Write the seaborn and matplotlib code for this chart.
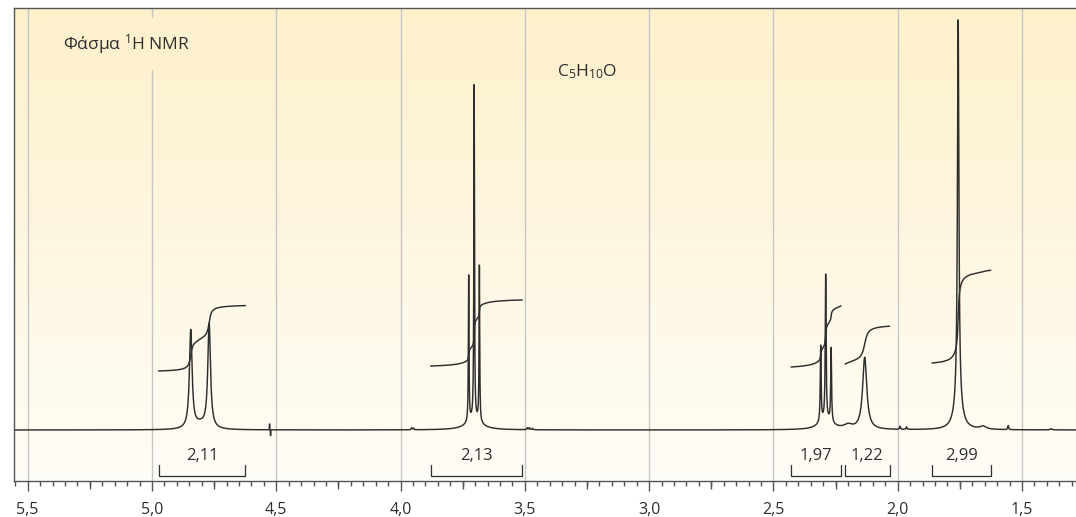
import numpy as np
import pandas as pd
import matplotlib
matplotlib.use("Agg")
import matplotlib.pyplot as plt
from matplotlib.ticker import MultipleLocator
import seaborn as sns

# -------- Data --------
# peak lines: shift (ppm), height (px above baseline), half width at half height (ppm)
peak_ppm = [4.844, 4.770, 4.805,
            4.527, 4.523, 3.955, 3.948,
            3.726, 3.704, 3.683, 3.705,
            3.490, 3.482, 3.470,
            2.310, 2.290, 2.268, 2.290, 2.200,
            2.133,
            1.991, 1.965,
            1.757, 1.757,
            1.657, 1.556, 1.383]
peak_height = [98, 104, 5,
               6, -6, 2, 1.5,
               146, 334, 156, 10,
               2, 2, 1.5,
               76, 144, 74, 10, 4,
               72,
               3, 2.5,
               380, 30,
               3, 4, 1.2]
peak_width = [0.0065, 0.0065, 0.03,
              0.0006, 0.0006, 0.002, 0.002,
              0.0015, 0.0015, 0.0015, 0.035,
              0.002, 0.002, 0.002,
              0.002, 0.002, 0.002, 0.03, 0.02,
              0.010,
              0.002, 0.002,
              0.0034, 0.016,
              0.015, 0.002, 0.004]

# integration regions
integ_start = [4.973, 3.879, 2.429, 2.212, 1.862]
integ_end = [4.624, 3.511, 2.228, 2.033, 1.626]
integ_value = [2.11, 2.13, 1.97, 1.22, 2.99]
integ_offset = [59, 64, 63, 66, 67]   # px above baseline where each curve starts
px_per_unit = 31

tick_ppm = [5.5, 5.0, 4.5, 4.0, 3.5, 3.0, 2.5, 2.0, 1.5]
tick_labels = ["5,5", "5,0", "4,5", "4,0", "3,5", "3,0", "2,5", "2,0", "1,5"]
quarter_ppm = [5.25, 4.75, 4.25, 3.75, 3.25, 2.75, 2.25, 1.75]

title_text = "Φάσμα $^{1}$H NMR"
formula_text = "C$_{5}$H$_{10}$O"

# -------- Build spectrum and integral curves --------
ppm = np.linspace(5.56, 1.28, 40000)
intensity = np.zeros_like(ppm)
for p, h, w in zip(peak_ppm, peak_height, peak_width):
    intensity += h * w**2 / ((ppm - p) ** 2 + w**2)

rows = []
for i, (s, e, v, off) in enumerate(zip(integ_start, integ_end, integ_value, integ_offset)):
    mask = (ppm <= s) & (ppm >= e)
    cum = np.cumsum(intensity[mask])
    cum = cum / cum[-1] * v * px_per_unit + off
    rows.append(pd.DataFrame({"ppm": ppm[mask], "level": cum, "region": i}))
integ_df = pd.concat(rows, ignore_index=True)

# -------- Plot --------
sns.set_style("ticks")
plt.rcParams["font.family"] = ["Open Sans", "DejaVu Sans"]
plt.rcParams["mathtext.fontset"] = "custom"
plt.rcParams["mathtext.rm"] = "Open Sans"
plt.rcParams["mathtext.it"] = "Open Sans:italic"

line_col = "#2e2e2e"
text_col = "#2e2e2e"

fig = plt.figure(figsize=(10.76, 5.17), dpi=100)
ax = fig.add_axes([14 / 1076, 36 / 517, 1062 / 1076, 473 / 517])

# cream gradient background
top_rgb = np.array([253, 240, 203]) / 255
bot_rgb = np.array([255, 253, 247]) / 255
grad = np.linspace(0, 1, 256)[:, None, None]
bg = top_rgb * (1 - grad) + bot_rgb * grad
ax.imshow(bg, extent=[0, 1, 0, 1], transform=ax.transAxes, aspect="auto", zorder=0)

sns.lineplot(x=ppm, y=intensity, ax=ax, color=line_col, linewidth=1.05,
             estimator=None, sort=False, zorder=2)
sns.lineplot(data=integ_df, x="ppm", y="level", units="region", ax=ax,
             color=line_col, linewidth=1.05, estimator=None, sort=False, zorder=2)

# integration brackets and values
for s, e, v in zip(integ_start, integ_end, integ_value):
    ax.plot([s, s, e, e], [-34.5, -45.5, -45.5, -34.5], color=line_col, lw=0.9, zorder=2)
    ax.text((s + e) / 2, -26, f"{v:.2f}".replace(".", ","), ha="center", va="center",
            fontsize=12, color=text_col)

ax.set_xlim(5.555, 1.283)
ax.set_ylim(-51, 422)
ax.set_xlabel("")
ax.set_ylabel("")
ax.set_yticks([])

ax.set_xticks(tick_ppm)
ax.set_xticklabels(tick_labels)
ax.xaxis.set_minor_locator(MultipleLocator(0.05))
ax.tick_params(axis="x", which="major", length=7.2, width=1.0, color="#555555",
               labelsize=11.5, labelcolor=text_col, pad=8)
ax.tick_params(axis="x", which="minor", length=3.6, width=1.0, color="#555555")

sec = ax.secondary_xaxis("bottom")
sec.set_xticks(quarter_ppm)
sec.tick_params(length=5.8, width=1.0, color="#555555", labelbottom=False)
sec.spines["bottom"].set_visible(False)

ax.grid(axis="x", which="major", color="#c6c6c6", linewidth=1.0)
ax.set_axisbelow(True)

for side in ["top", "left", "bottom"]:
    ax.spines[side].set_color("#555555")
    ax.spines[side].set_linewidth(1.0)
ax.spines["right"].set_visible(False)

ax.text(0.046, 0.924, title_text, transform=ax.transAxes, ha="left", va="center",
        fontsize=12.5, color=text_col,
        bbox=dict(boxstyle="square,pad=0.8", facecolor="#fdf1cf", edgecolor="none"))
ax.text(0.511, 0.865, formula_text, transform=ax.transAxes, ha="left", va="center",
        fontsize=12.5, color=text_col)

fig.savefig("out.png", dpi=100)
